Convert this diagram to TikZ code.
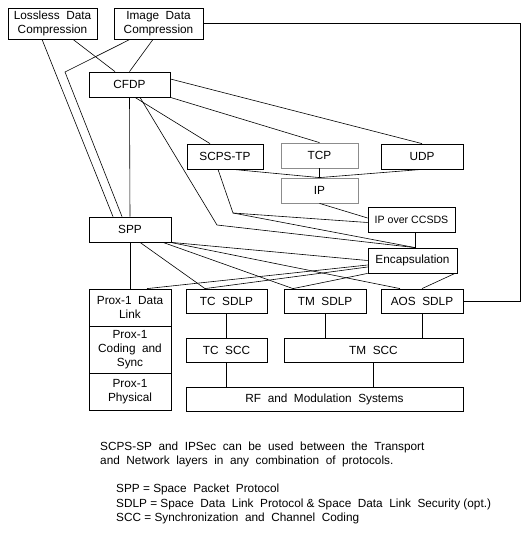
\documentclass[tikz,border=0pt]{standalone}
\usepackage{fontspec}
\setmainfont{Liberation Sans}
\begin{document}
\begin{tikzpicture}[x=1pt,y=-1pt]

\tikzset{
  layer/.style={draw=black,line width=0.8pt,inner sep=0pt,align=center,
    font=\fontsize{11.8}{13.8}\selectfont},
  greylayer/.style={layer,draw=black!45},
  link/.style={line width=0.6pt},
  note/.style={anchor=base west,inner sep=0pt,font=\fontsize{11.8}{14}\selectfont}
}

\useasboundingbox (0,0) rectangle (530,533);

%% Data compression
\node[layer,minimum width=89pt,minimum height=31pt] (lossless) at (52.5,23.5) {Lossless\ \ Data\\Compression};
\node[layer,minimum width=89pt,minimum height=31pt] (image) at (158.5,23.5) {Image\ \ Data\\Compression};

%% Transfer and transport
\node[layer,minimum width=81pt,minimum height=25pt] (cfdp) at (129.5,84.5) {CFDP};
\node[layer,minimum width=76pt,minimum height=25pt] (scps) at (225,156.5) {SCPS-TP};
\node[greylayer,minimum width=77pt,minimum height=25pt] (tcp) at (319.5,155.5) {TCP};
\node[layer,minimum width=82pt,minimum height=25pt] (udp) at (422,156.5) {UDP};

%% Network
\node[greylayer,minimum width=77pt,minimum height=25pt] (ip) at (319.5,190.5) {IP};
\node[layer,minimum width=87pt,minimum height=25pt,font=\fontsize{10.6}{12}\selectfont] (ipccsds) at (411.5,219.5) {IP over CCSDS};
\node[layer,minimum width=89pt,minimum height=25pt] (encap) at (412.5,260.5) {Encapsulation};
\node[layer,minimum width=82pt,minimum height=25pt] (spp) at (130,229.5) {SPP};

%% Prox-1 stack
\node[layer,minimum width=82pt,minimum height=37pt] (proxdl) at (130,307.5) {Prox-1\ \ Data\\Link};
\node[layer,minimum width=82pt,minimum height=47pt] (proxcs) at (130,349.5) {Prox-1\\Coding\ \ and\\Sync};
\node[layer,minimum width=82pt,minimum height=37pt] (proxph) at (130,391.5) {Prox-1\\Physical};

%% Data link
\node[layer,minimum width=81pt,minimum height=24pt] (tcsdlp) at (226.5,301) {TC\ \ SDLP};
\node[layer,minimum width=82pt,minimum height=24pt] (tmsdlp) at (325,301) {TM\ \ SDLP};
\node[layer,minimum width=82pt,minimum height=24pt] (aossdlp) at (422,301) {AOS\ \ SDLP};

%% Coding and physical
\node[layer,minimum width=81pt,minimum height=24pt] (tcscc) at (226.5,350) {TC\ \ SCC};
\node[layer,minimum width=179pt,minimum height=24pt] (tmscc) at (373.5,350) {TM\ \ SCC};
\node[layer,minimum width=277pt,minimum height=24pt] (rf) at (324.5,399) {RF\ \ and\ \ Modulation\ \ Systems};

%% Bends
\coordinate (imgbend) at (65,72);
\coordinate (cfdpbend) at (217,225);
\coordinate (scpsbend) at (233,213);
\coordinate (loop) at (520,0);

%% Compression links
\draw[link] ([xshift=-10.5pt]lossless.south) -- ([xshift=-17pt]spp.north);
\draw[link] ([xshift=20.5pt]lossless.south) -- ([xshift=-14.5pt]cfdp.north);
\draw[link] ([xshift=-28.5pt]image.south) -- (imgbend) -- ([xshift=-8pt]spp.north);
\draw[link] ([xshift=-5.5pt]image.south) -- (cfdp.north);
\draw[line width=0.8pt] (image.east) -- (image.east -| loop) -- (aossdlp.east -| loop) -- (aossdlp.east);

%% CFDP links
\draw[link] ([yshift=5.5pt]cfdp.east) -- (udp.north);
\draw[link] (cfdp.south east) -- (tcp.north);
\draw[link] ([xshift=5.5pt]cfdp.south) -- ([xshift=-15pt]scps.north);
\draw[link] ([xshift=10.5pt]cfdp.south) -- (cfdpbend) -- ([xshift=2.5pt]encap.north);
\draw[link] (cfdp.south) -- (spp.north);

%% Transport to network
\draw[link] ([xshift=8pt]scps.south) -- (ip.north);
\draw[link] (udp.south) -- (ip.north);
\draw[link] (tcp.south) -- (ip.north);
\draw[link] ([xshift=-7pt]scps.south) -- (scpsbend) -- ([yshift=-3pt]ipccsds.west);
\draw[link] (scpsbend) -- ([xshift=2.5pt]encap.north);
\draw[link] (ip.south) -- ([yshift=1.5pt]ipccsds.west);
\draw[link] ([xshift=3.5pt]ipccsds.south) -- ([xshift=2.5pt]encap.north);

%% SPP and Encapsulation to data link
\draw[link] (spp.south) -- (proxdl.north);
\draw[link] (spp.south east) -- (encap.west);
\draw[link] ([xshift=-1pt]spp.south east) -- ([xshift=-22pt]aossdlp.north);
\draw[link] ([xshift=33pt]spp.south) -- ([xshift=-32pt]tmsdlp.north);
\draw[link] ([xshift=10pt]spp.south) -- ([xshift=-21.5pt]tcsdlp.north);
\draw[link] ([yshift=-4.5pt]encap.west) -- ([xshift=17pt]proxdl.north);
\draw[link] ([yshift=-6.5pt]encap.west) -- ([xshift=-21.5pt]tcsdlp.north);
\draw[link] (encap.south west) -- ([xshift=-32pt]tmsdlp.north);
\draw[link] ([xshift=42.5pt]encap.south) -- (aossdlp.north);

%% Lower layers
\draw[link] (tcsdlp.south) -- (tcscc.north);
\draw[link] (tcscc.south) -- (tcscc.south |- rf.north);
\draw[link] (tmsdlp.south) -- (tmsdlp.south |- tmscc.north);
\draw[link] (aossdlp.south) -- (aossdlp.south |- tmscc.north);
\draw[link] (tmscc.south) -- (tmscc.south |- rf.north);

%% Notes
\node[note] (note1) at (100,450) {SCPS-SP\ \ and\ \ IPSec\ \ can\ \ be\ \ used\ \ between\ \ the\ \ Transport};
\node[note] (note2) at (100,464) {and\ \ Network\ \ layers\ \ in\ \ any\ \ combination\ \ of\ \ protocols.};
\node[note] (key1) at (116,492.7) {SPP = Space\ \ Packet\ \ Protocol};
\node[note] (key2) at (116,507) {SDLP = Space\ \ Data\ \ Link\ \ Protocol \& Space\ \ Data\ \ Link\ \ Security (opt.)};
\node[note] (key3) at (116,521.7) {SCC = Synchronization\ \ and\ \ Channel\ \ Coding};

\end{tikzpicture}
\end{document}
